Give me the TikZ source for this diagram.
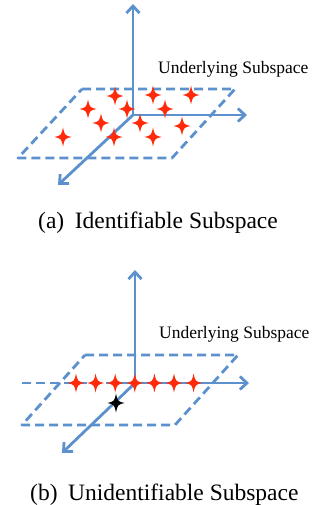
\documentclass[tikz,border=0pt]{standalone}
\usepackage{fontspec}
\setmainfont{Liberation Serif}
\usetikzlibrary{arrows.meta}
\definecolor{axisblue}{RGB}{92,145,205}
\definecolor{starred}{RGB}{255,42,10}
\tikzset{
  axis/.style={draw=axisblue, line width=2.8pt, -{Straight Barb[length=7pt,width=13pt]}},
  plane/.style={draw=axisblue, line width=2.8pt, dash pattern=on 9pt off 5pt, line join=round},
  dashaxis/.style={draw=axisblue, line width=2.8pt, dash pattern=on 9pt off 5pt},
  lbl/.style={font=\fontsize{17.5}{20}\selectfont, anchor=base west, inner sep=0pt},
  captext/.style={font=\fontsize{23.5}{26}\selectfont, anchor=base west, inner sep=0pt},
  fourstar/.pic={
    \fill[pic actions] (0,9.5) .. controls (1.7,1.7) .. (8.5,0) .. controls (1.7,-1.7) .. (0,-9.5)
      .. controls (-1.7,-1.7) .. (-8.5,0) .. controls (-1.7,1.7) .. (0,9.5) -- cycle;
  }
}
\begin{document}
\begin{tikzpicture}[x=1pt,y=-1pt]
\useasboundingbox (0,0) rectangle (328,505);
% ---------- (a) ----------
\coordinate (O1) at (133,115);
\coordinate (V1) at (133,4);
\coordinate (H1) at (247,115);
\coordinate (D1) at (58,185);
\coordinate (P1a) at (82,89);
\coordinate (P1b) at (235,89);
\coordinate (P1c) at (172,158);
\coordinate (P1d) at (18,158);
\draw[plane] (P1a) -- (P1b) -- (P1c) -- (P1d) -- cycle;
\draw[axis] (O1) -- (V1);
\draw[axis] (O1) -- (H1);
\draw[axis] (O1) -- (D1);
\foreach \x/\y in {115/96,153/95,191/95,88/109,127/109,165/109,101/123,140/123,182/126,63/137,114/137,153/137}
  \pic[starred] at (\x,\y) {fourstar};
\node[lbl] (L1) at (158,74) {Underlying Subspace};
\node[captext] (C1) at (38,228) {(a)\hspace{0.45em}Identifiable Subspace};
% ---------- (b) ----------
\coordinate (O2) at (135,383);
\coordinate (V2) at (135,270);
\coordinate (H2s) at (22,383);
\coordinate (H2) at (249,383);
\coordinate (D2) at (62,453);
\coordinate (P2a) at (85,355);
\coordinate (P2b) at (238,355);
\coordinate (P2c) at (175,425);
\coordinate (P2d) at (22,425);
\draw[plane] (P2a) -- (P2b) -- (P2c) -- (P2d) -- cycle;
\draw[dashaxis] (H2s) -- (O2);
\draw[axis] (O2) -- (V2);
\draw[axis] (O2) -- (H2);
\draw[axis] (O2) -- (D2);
\foreach \x in {76,95.6,115.2,134.8,154.4,174,193.6}
  \pic[starred] at (\x,383) {fourstar};
\pic[black] at (116,403) {fourstar};
\node[lbl] (L2) at (159,338) {Underlying Subspace};
\node[captext] (C2) at (30,500) {(b)\hspace{0.45em}Unidentifiable Subspace};
\end{tikzpicture}
\end{document}
